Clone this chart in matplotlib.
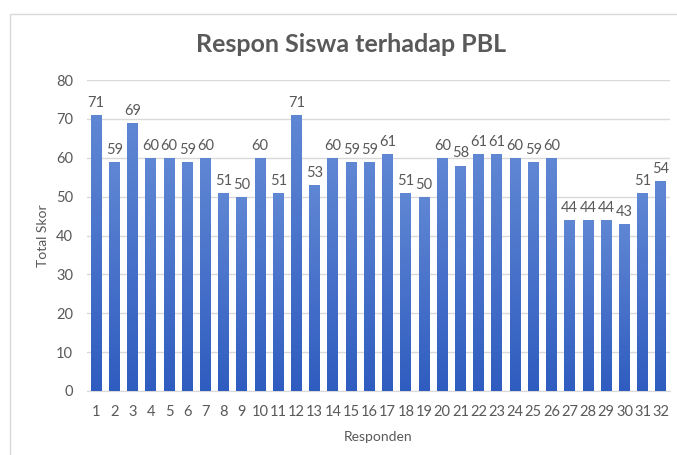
import matplotlib.pyplot as plt
import numpy as np
from matplotlib.patches import Rectangle
from matplotlib.colors import LinearSegmentedColormap

responden = [str(i) for i in range(1, 33)]
skor = [71, 59, 69, 60, 60, 59, 60, 51, 50, 60, 51, 71, 53, 60, 59, 59,
        61, 51, 50, 60, 58, 61, 61, 60, 59, 60, 44, 44, 44, 43, 51, 54]
y_ticks = [0, 10, 20, 30, 40, 50, 60, 70, 80]

plt.rcParams['font.family'] = ['Lato', 'DejaVu Sans']
txt = '#595959'

fig = plt.figure(figsize=(6.77, 4.55), dpi=100)
# chart frame like excel
fig.patches.append(Rectangle((10 / 677, -0.1), 2, 1 - 14 / 455 + 0.1,
                             transform=fig.transFigure, fill=False,
                             edgecolor='#d9d9d9', linewidth=1))

ax = fig.add_axes([87 / 677, 1 - 391 / 455, 583 / 677, 311 / 455])
x = np.arange(len(skor))
bars = ax.bar(x, skor, width=0.6, color='#4472c4', zorder=3)

# vertical gradient on each bar
cmap = LinearSegmentedColormap.from_list('g', ['#2f5cbf', '#6087d4'])
grad = np.linspace(0, 1, 256).reshape(-1, 1)
for b in bars:
    x0, w, h = b.get_x(), b.get_width(), b.get_height()
    im = ax.imshow(grad, cmap=cmap, aspect='auto', origin='lower',
                   extent=[x0, x0 + w, 0, h], zorder=4)
    im.set_clip_path(b)

for xi, v in zip(x, skor):
    ax.text(xi, v + 1.3, str(v), ha='center', va='bottom', fontsize=10.5,
            color=txt, zorder=5)

ax.set_xlim(-0.5, len(skor) - 0.5)
ax.set_ylim(0, 80)
ax.set_yticks(y_ticks)
ax.set_xticks(x)
ax.set_xticklabels(responden)
ax.tick_params(axis='both', length=0, labelsize=10.5, colors=txt)
ax.tick_params(axis='x', pad=10)
ax.tick_params(axis='y', pad=10)
ax.grid(axis='y', color='#d9d9d9', linewidth=1, zorder=0)
for s in ['top', 'right', 'left']:
    ax.spines[s].set_visible(False)
ax.spines['bottom'].set_color('#d9d9d9')
ax.set_facecolor('none')

ax.set_ylabel('Total Skor', fontsize=10, color=txt, labelpad=5)
ax.set_xlabel('Responden', fontsize=10, color=txt, labelpad=9)
fig.text(351 / 677, 1 - 45 / 455, 'Respon Siswa terhadap PBL', ha='center',
         va='center', fontsize=18, fontweight='bold', color=txt)

fig.savefig('out.png', dpi=100)
